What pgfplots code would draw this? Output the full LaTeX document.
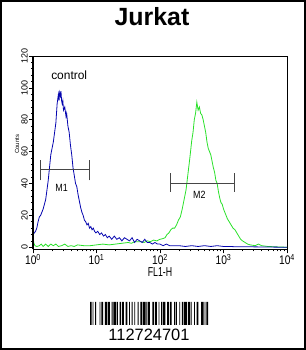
\documentclass[border=0pt]{standalone}
\usepackage{pgfplots}
\pgfplotsset{compat=1.18}
\usepackage{fontspec}
\setmainfont{Liberation Sans}
\definecolor{facsblue}{RGB}{5,5,175}
\definecolor{facsgreen}{RGB}{40,225,40}
\definecolor{markgray}{RGB}{70,70,70}
\begin{document}
\begin{tikzpicture}[x=1bp,y=1bp]
\draw[line width=1.6bp] (0.8,0.8) rectangle (305.2,349.2);
\node[anchor=base,font=\fontsize{25}{28}\selectfont\bfseries] at (152,325) {Jurkat};
\begin{axis}[
  at={(33bp,100.5bp)}, anchor=south west,
  scale only axis, width=254bp, height=193.5bp,
  xmin=0, xmax=4, ymin=-1.4, ymax=120,
  axis line style={line width=0.7bp},
  xtick={0,1,2,3,4},
  xticklabels={10\textsuperscript{0},10\textsuperscript{1},10\textsuperscript{2},10\textsuperscript{3},10\textsuperscript{4}},
  minor xtick={0.301,0.477,0.602,0.699,0.778,0.845,0.903,0.954,
    1.301,1.477,1.602,1.699,1.778,1.845,1.903,1.954,
    2.301,2.477,2.602,2.699,2.778,2.845,2.903,2.954,
    3.301,3.477,3.602,3.699,3.778,3.845,3.903,3.954},
  ytick={0,20,40,60,80,100,120},
  minor y tick num=4,
  tick align=outside,
  major tick length=4bp, minor tick length=2bp,
  xtick pos=bottom, ytick pos=left,
  tick style={black, line width=0.7bp},
  xticklabel style={font=\fontsize{12.5}{13}\selectfont, xscale=0.82, inner sep=0.5pt},
  yticklabel style={rotate=90, anchor=south, font=\fontsize{9}{10}\selectfont, inner sep=1pt},
  /pgf/number format/assume math mode=true,
  clip=false,
]
\addplot[facsgreen, line width=0.8bp] coordinates {
(0.00,16) (0.01,3) (0.03,1) (0.06,0.5) (0.10,1) (0.13,2) (0.16,0.5) (0.20,2) (0.24,0.5) (0.28,2) (0.32,1) (0.36,2) (0.40,0.5) (0.45,1) (0.50,2) (0.55,0.5) (0.60,1) (0.65,0.5) (0.70,1.5) (0.80,1) (0.90,1) (1.00,1.5) (1.10,2) (1.20,1.5) (1.30,2) (1.40,2.5) (1.50,3) (1.55,2.5) (1.60,3.5) (1.70,3.5) (1.75,3) (1.80,4) (1.85,3.5) (1.90,4.5) (1.95,4) (2.00,5) (2.05,5.5) (2.08,6) (2.11,8) (2.14,9) (2.17,11) (2.20,12) (2.23,12) (2.26,14) (2.29,17) (2.32,19) (2.35,24) (2.38,30) (2.41,36) (2.44,46) (2.47,56) (2.50,67) (2.52,72) (2.54,80) (2.56,84) (2.58,91) (2.60,86) (2.62,88) (2.64,84) (2.66,83) (2.68,80) (2.70,76) (2.72,72) (2.74,66) (2.76,62) (2.78,60) (2.80,58) (2.82,54) (2.84,50) (2.86,47) (2.88,42) (2.90,40) (2.92,35) (2.94,31) (2.96,28) (2.98,27) (3.00,24) (3.03,21) (3.06,18) (3.09,16) (3.12,14) (3.15,12) (3.18,11) (3.21,9) (3.24,7) (3.27,5) (3.30,4) (3.34,3) (3.38,2) (3.42,1.5) (3.50,1) (3.55,2) (3.60,1) (3.70,0.5) (3.80,0.3) (4.00,0)
};
\addplot[facsblue, line width=0.8bp] coordinates {
(0.000,8) (0.02,9) (0.04,10) (0.06,12) (0.08,16) (0.10,19) (0.12,20) (0.14,22) (0.16,24) (0.18,27) (0.20,30) (0.22,36) (0.24,42) (0.26,50) (0.28,58) (0.30,62) (0.32,66) (0.34,72) (0.36,78) (0.38,90) (0.40,96) (0.41,92) (0.42,97) (0.43,95) (0.44,98) (0.45,92) (0.46,90) (0.47,92) (0.48,86) (0.50,88) (0.52,82) (0.53,84) (0.55,76) (0.57,72) (0.59,64) (0.61,58) (0.63,50) (0.65,45) (0.67,40) (0.69,38) (0.71,33) (0.73,29) (0.75,25) (0.77,22) (0.79,20) (0.81,17) (0.83,16) (0.85,14) (0.87,15) (0.89,12) (0.91,13) (0.93,11) (0.95,12) (0.97,10) (0.99,9) (1.02,10) (1.05,8) (1.08,9) (1.11,7) (1.14,8) (1.17,6) (1.20,7) (1.24,5) (1.28,7) (1.32,5) (1.36,6) (1.40,4) (1.44,6) (1.48,5) (1.52,4) (1.56,6) (1.60,3) (1.64,5) (1.68,4) (1.72,3) (1.76,5) (1.80,3) (1.84,3) (1.88,2) (1.92,3) (1.96,2) (2.00,2) (2.05,1) (2.10,2) (2.15,1) (2.20,1) (2.30,1) (2.40,0.5) (2.50,1) (2.60,0.5) (2.70,1) (2.80,0.5) (2.90,1) (3.00,0.5) (3.10,0.5) (3.20,0.3) (3.40,0.3) (3.60,0.2) (3.80,0.1) (4.00,0)
};
% M1 and M2 markers
\addplot[markgray, line width=1bp] coordinates {(0.12,48.6) (0.89,48.6)};
\addplot[markgray, line width=1bp] coordinates {(0.12,42) (0.12,55)};
\addplot[markgray, line width=1bp] coordinates {(0.89,42) (0.89,55)};
\addplot[markgray, line width=1bp] coordinates {(2.17,40) (3.17,40)};
\addplot[markgray, line width=1bp] coordinates {(2.17,34.7) (2.17,46.5)};
\addplot[markgray, line width=1bp] coordinates {(3.17,34.7) (3.17,46.5)};
\node[font=\fontsize{10.5}{11}\selectfont, xscale=0.85] at (axis cs:0.45,37) {M1};
\node[font=\fontsize{10.5}{11}\selectfont, xscale=0.85] at (axis cs:2.62,33) {M2};
\node[font=\fontsize{12}{13}\selectfont] at (axis cs:0.57,108) {control};
\node[rotate=90, font=\fontsize{6}{7}\selectfont] at (axis cs:-0.25,64.5) {Counts};
\draw[line width=1.6bp] (rel axis cs:0,0) -- (rel axis cs:0,1);
\draw[line width=1.6bp] (rel axis cs:0,0) -- (rel axis cs:1,0);
\end{axis}
\node[font=\fontsize{13}{14}\selectfont, xscale=0.68] at (160,78) {FL1-H};
\begin{axis}[
  at={(90bp,25bp)}, anchor=south west,
  scale only axis, width=118bp, height=23bp,
  xmin=0, xmax=136, ymin=0, ymax=1,
  hide axis,
]
\addplot[ybar interval, fill=black, draw=none] coordinates {
(0,1) (2,0) (3,1) (4,0) (6,1) (7,0) (11,1) (12,0) (13,1) (15,0) (17,1) (20,0) (21,1) (23,0) (25,1) (26,0) (27,1) (30,0) (31,1) (32,0) (34,1) (36,0) (37,1) (39,0) (41,1) (43,0) (45,1) (46,0) (48,1) (49,0) (51,1) (52,0) (55,1) (56,0) (58,1) (60,0) (61,1) (64,0) (65,1) (66,0) (67,1) (69,0) (72,1) (74,0) (75,1) (77,0) (79,1) (80,0) (82,1) (83,0) (84,1) (87,0) (89,1) (91,0) (92,1) (94,0) (97,1) (98,0) (99,1) (100,0) (103,1) (104,0) (106,1) (107,0) (108,1) (112,0) (113,1) (115,0) (116,1) (117,0) (120,1) (121,0) (123,1) (125,0) (128,1) (131,0) (132,1) (133,0) (134,1) (136,0)
};
\end{axis}
\node[anchor=base, font=\fontsize{16.5}{18}\selectfont] at (149,10) {112724701};
\end{tikzpicture}
\end{document}
